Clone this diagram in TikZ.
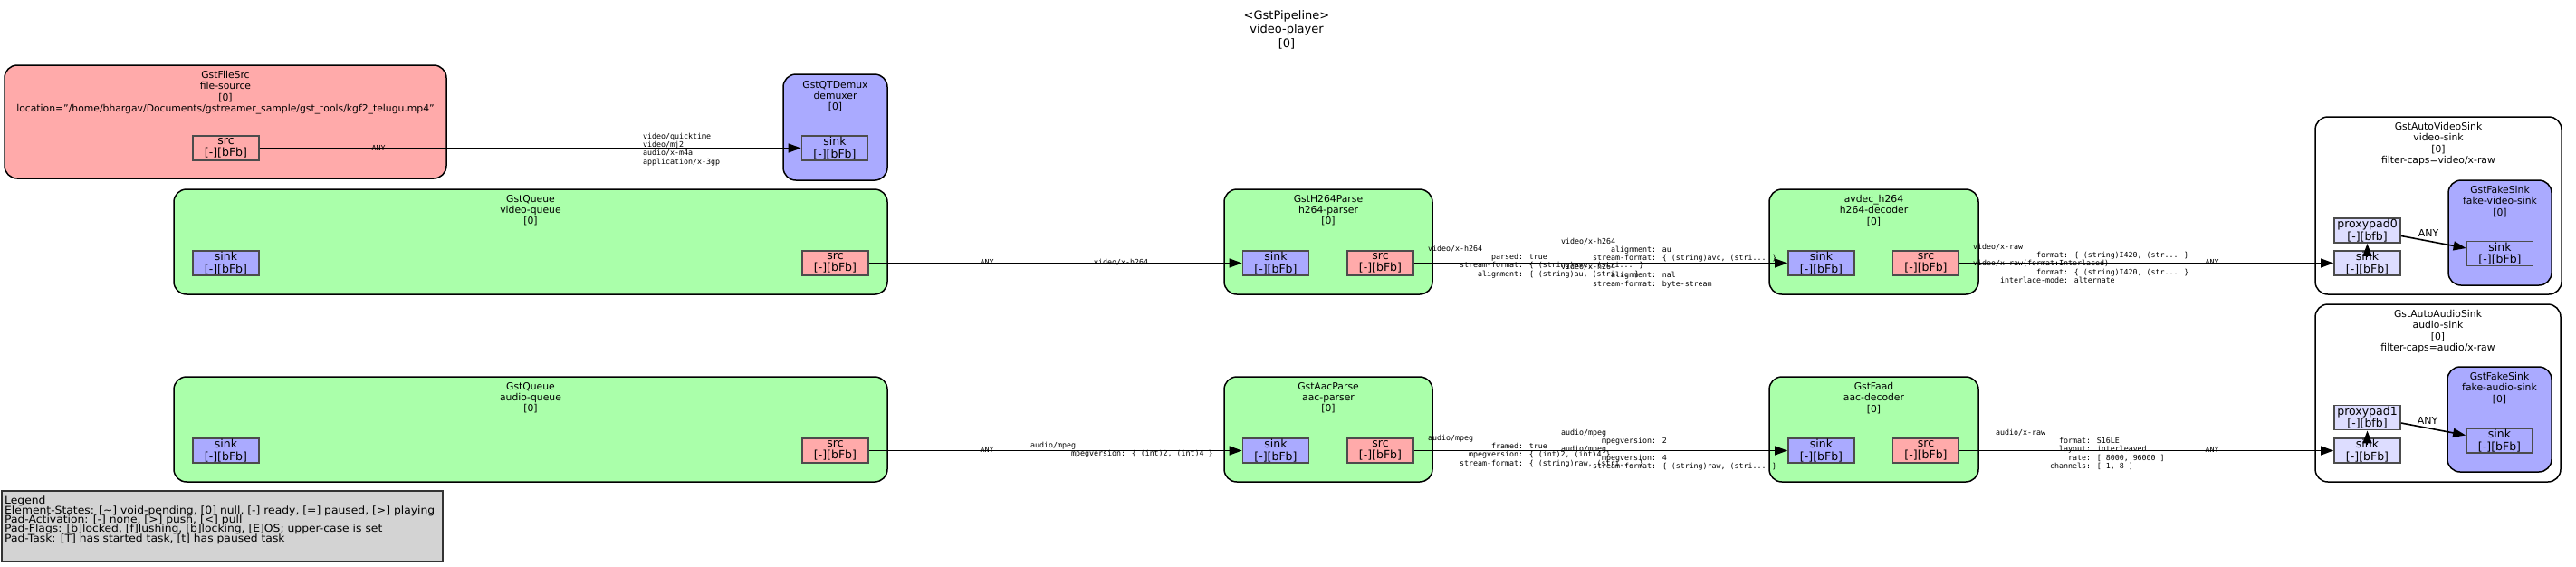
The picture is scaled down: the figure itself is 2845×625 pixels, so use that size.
\documentclass[tikz,border=0pt]{standalone}
\usepackage{fontspec}
\setmainfont{DejaVu Sans}
\newfontfamily\capfont{DejaVu Sans Mono}
\usepackage{xcolor}
\usepackage{graphicx}
\usetikzlibrary{arrows.meta}
\setlength{\lineskiplimit}{-10pt}
\definecolor{srcred}{HTML}{FFAAAA}
\definecolor{sinkblue}{HTML}{AAAAFF}
\definecolor{filtgreen}{HTML}{AAFFAA}
\definecolor{ghostblue}{HTML}{DDDDFF}
\definecolor{legendgrey}{HTML}{D3D3D3}
\newcommand{\capsize}{\capfont\fontsize{8.3}{9.4}\selectfont}
\newcommand{\capf}[2]{\makebox[99.9pt][r]{#1}: #2}

\begin{document}
\begin{tikzpicture}[x=1pt,y=-1pt]
	\tikzstyle{every node}=[font=\fontsize{10.8}{12.3}\selectfont]
	\tikzstyle{elembox}=[draw, line width=1.5pt, rounded corners=14pt, inner sep=0]
	\tikzstyle{padbox}=[draw=black!70, line width=1.8pt, minimum width=73, minimum height=27, inner sep=0, align=center, font=\fontsize{12.5}{13.5}\selectfont]
	\tikzstyle{elemtitle}=[anchor=north, inner sep=0, align=center]
	\tikzstyle{capslabel}=[anchor=north west, inner sep=0, align=left, font=\capsize]
	\tikzstyle{anylabel}=[inner sep=0, font=\capsize]
	\tikzstyle{link}=[line width=1.6pt, -{Triangle[length=14pt,width=10pt]}]
	\useasboundingbox (0,0) rectangle (2845,625);
		\node[elemtitle, font=\fontsize{13}{15.5}\selectfont] (pipeline) at (1421,11) {<GstPipeline>\\video-player\\{[0]}};
		% source and demuxer
		\node[elembox, fill=srcred, minimum width=488, minimum height=125] (fsrc) at (249,134.5) {};
		\node[elemtitle] (fsrc_t) at (249,78) {GstFileSrc\\file-source\\{[0]}\\location="/home/bhargav/Documents/gstreamer\_sample/gst\_tools/kgf2\_telugu.mp4"};
		\node[padbox, fill=srcred] (fsrc_src) at (249.5,163.5) {src\\{[-][bFb]}};
		\node[elembox, fill=sinkblue, minimum width=115, minimum height=117] (demux) at (922.5,140.5) {};
		\node[elemtitle] (demux_t) at (922.5,89) {GstQTDemux\\demuxer\\{[0]}};
		\node[padbox, fill=sinkblue] (demux_sink) at (922,163.5) {sink\\{[-][bFb]}};
		% video branch
		\node[elembox, fill=filtgreen, minimum width=788, minimum height=116] (vq) at (586,267) {};
		\node[elemtitle] (vq_t) at (586,215) {GstQueue\\video-queue\\{[0]}};
		\node[padbox, fill=sinkblue] (vq_sink) at (249.5,290.5) {sink\\{[-][bFb]}};
		\node[padbox, fill=srcred] (vq_src) at (922.5,290.5) {src\\{[-][bFb]}};
		\node[elembox, fill=filtgreen, minimum width=230, minimum height=116] (hparse) at (1467,267) {};
		\node[elemtitle] (hparse_t) at (1467,215) {GstH264Parse\\h264-parser\\{[0]}};
		\node[padbox, fill=sinkblue] (hparse_sink) at (1409,290.5) {sink\\{[-][bFb]}};
		\node[padbox, fill=srcred] (hparse_src) at (1524.5,290.5) {src\\{[-][bFb]}};
		\node[elembox, fill=filtgreen, minimum width=231, minimum height=116] (hdec) at (2069.5,267) {};
		\node[elemtitle] (hdec_t) at (2069.5,215) {avdec\_h264\\h264-decoder\\{[0]}};
		\node[padbox, fill=sinkblue] (hdec_sink) at (2011.5,290.5) {sink\\{[-][bFb]}};
		\node[padbox, fill=srcred] (hdec_src) at (2127,290.5) {src\\{[-][bFb]}};
		\node[elembox, fill=white, minimum width=272, minimum height=196] (vsink) at (2693,227) {};
		\node[elemtitle] (vsink_t) at (2693,135) {GstAutoVideoSink\\video-sink\\{[0]}\\filter-caps=video/x-raw};
		\node[elembox, fill=sinkblue, minimum width=114, minimum height=116] (vfake) at (2761,257) {};
		\node[elemtitle] (vfake_t) at (2761,205) {GstFakeSink\\fake-video-sink\\{[0]}};
		\node[padbox, fill=sinkblue] (vfake_sink) at (2761,280) {sink\\{[-][bFb]}};
		\node[padbox, fill=ghostblue] (vsink_proxy) at (2614.5,254.5) {proxypad0\\{[-][bfb]}};
		\node[padbox, fill=ghostblue] (vsink_sink) at (2614.5,290.5) {sink\\{[-][bFb]}};
		% audio branch
		\node[elembox, fill=filtgreen, minimum width=788, minimum height=116] (aq) at (586,474) {};
		\node[elemtitle] (aq_t) at (586,422) {GstQueue\\audio-queue\\{[0]}};
		\node[padbox, fill=sinkblue] (aq_sink) at (249.5,497.5) {sink\\{[-][bFb]}};
		\node[padbox, fill=srcred] (aq_src) at (922.5,497.5) {src\\{[-][bFb]}};
		\node[elembox, fill=filtgreen, minimum width=230, minimum height=116] (aparse) at (1467,474) {};
		\node[elemtitle] (aparse_t) at (1467,422) {GstAacParse\\aac-parser\\{[0]}};
		\node[padbox, fill=sinkblue] (aparse_sink) at (1409,497.5) {sink\\{[-][bFb]}};
		\node[padbox, fill=srcred] (aparse_src) at (1524.5,497.5) {src\\{[-][bFb]}};
		\node[elembox, fill=filtgreen, minimum width=231, minimum height=116] (adec) at (2069.5,474) {};
		\node[elemtitle] (adec_t) at (2069.5,422) {GstFaad\\aac-decoder\\{[0]}};
		\node[padbox, fill=sinkblue] (adec_sink) at (2011.5,497.5) {sink\\{[-][bFb]}};
		\node[padbox, fill=srcred] (adec_src) at (2127,497.5) {src\\{[-][bFb]}};
		\node[elembox, fill=white, minimum width=271, minimum height=196] (asink) at (2692.5,434) {};
		\node[elemtitle] (asink_t) at (2692.5,342) {GstAutoAudioSink\\audio-sink\\{[0]}\\filter-caps=audio/x-raw};
		\node[elembox, fill=sinkblue, minimum width=115, minimum height=116] (afake) at (2760.5,463) {};
		\node[elemtitle] (afake_t) at (2760.5,411) {GstFakeSink\\fake-audio-sink\\{[0]}};
		\node[padbox, fill=sinkblue] (afake_sink) at (2760.5,486.5) {sink\\{[-][bFb]}};
		\node[padbox, fill=ghostblue] (asink_proxy) at (2614.5,461) {proxypad1\\{[-][bfb]}};
		\node[padbox, fill=ghostblue] (asink_sink) at (2614.5,497.5) {sink\\{[-][bFb]}};
		% links
		\draw[link] (fsrc_src) -- (demux_sink);
		\draw[link] (vq_src) -- (hparse_sink);
		\draw[link] (hparse_src) -- (hdec_sink);
		\draw[link] (hdec_src) -- (vsink_sink);
		\draw[link] ([yshift=-8pt]vsink_sink.north) -- (vsink_proxy.south);
		\draw[link] ([yshift=-6pt]vsink_proxy.east) -- ([yshift=6pt]vfake_sink.west);
		\draw[link] (aq_src) -- (aparse_sink);
		\draw[link] (aparse_src) -- (adec_sink);
		\draw[link] (adec_src) -- (asink_sink);
		\draw[link] ([yshift=-8pt]asink_sink.north) -- (asink_proxy.south);
		\draw[link] ([yshift=-6pt]asink_proxy.east) -- ([yshift=6pt]afake_sink.west);
		% caps
		\node[anylabel] (fsrc_caps) at (418,163) {ANY};
		\node[capslabel] (demux_caps) at (710,146.5) {video/quicktime\\video/mj2\\audio/x-m4a\\application/x-3gp};
		\node[anylabel] (vq_caps) at (1090,289) {ANY};
		\node[capslabel] (hparse_sinkcaps) at (1208,285.5) {video/x-h264};
		\node[capslabel] (hparse_caps) at (1577,270.5) {video/x-h264\\\capf{parsed}{true}\\\capf{stream-format}{\{ (string)avc, (stri... \}}\\\capf{alignment}{\{ (string)au, (stri... \}}};
		\node[capslabel] (hdec_sinkcaps) at (1724,262.5) {video/x-h264\\\capf{alignment}{au}\\\capf{stream-format}{\{ (string)avc, (stri... \}}\\video/x-h264\\\capf{alignment}{nal}\\\capf{stream-format}{byte-stream}};
		\node[capslabel] (hdec_caps) at (2179,268.5) {video/x-raw\\\capf{format}{\{ (string)I420, (str... \}}\\video/x-raw(format:Interlaced)\\\capf{format}{\{ (string)I420, (str... \}}\\\capf{interlace-mode}{alternate}};
		\node[anylabel] (vsink_caps) at (2443,289) {ANY};
		\node[font=\fontsize{11}{12}\selectfont, inner sep=0] (vproxy_caps) at (2682,257) {ANY};
		\node[anylabel] (aq_caps) at (1090,496) {ANY};
		\node[capslabel] (aparse_sinkcaps) at (1138,487.5) {audio/mpeg\\\capf{mpegversion}{\{ (int)2, (int)4 \}}};
		\node[capslabel] (aparse_caps) at (1577,479.5) {audio/mpeg\\\capf{framed}{true}\\\capf{mpegversion}{\{ (int)2, (int)4 \}}\\\capf{stream-format}{\{ (string)raw, (stri... \}}};
		\node[capslabel] (adec_sinkcaps) at (1724,473.5) {audio/mpeg\\\capf{mpegversion}{2}\\audio/mpeg\\\capf{mpegversion}{4}\\\capf{stream-format}{\{ (string)raw, (stri... \}}};
		\node[capslabel] (adec_caps) at (2204,473.5) {audio/x-raw\\\capf{format}{S16LE}\\\capf{layout}{interleaved}\\\capf{rate}{[ 8000, 96000 ]}\\\capf{channels}{[ 1, 8 ]}};
		\node[anylabel] (asink_caps) at (2443,496) {ANY};
		\node[font=\fontsize{11}{12}\selectfont, inner sep=0] (aproxy_caps) at (2681,464) {ANY};
		% legend
		\node[draw=black!80, line width=1.5pt, fill=legendgrey, minimum width=487, minimum height=78, inner sep=0] (legend) at (245.5,581) {};
		\node[anchor=north west, inner sep=0] (legend_t) at (5,548) {\resizebox{475pt}{\height}{\vbox{\fontsize{11.5}{10.3}\selectfont
			\hbox{Legend}
			\hbox{Element-States: [\textasciitilde] void-pending, [0] null, [-] ready, [=] paused, [>] playing}
			\hbox{Pad-Activation: [-] none, [>] push, [<] pull}
			\hbox{Pad-Flags: [b]locked, [f]lushing, [b]locking, [E]OS; upper-case is set}
			\hbox{Pad-Task: [T] has started task, [t] has paused task}}}};
	\end{tikzpicture}
\end{document}
